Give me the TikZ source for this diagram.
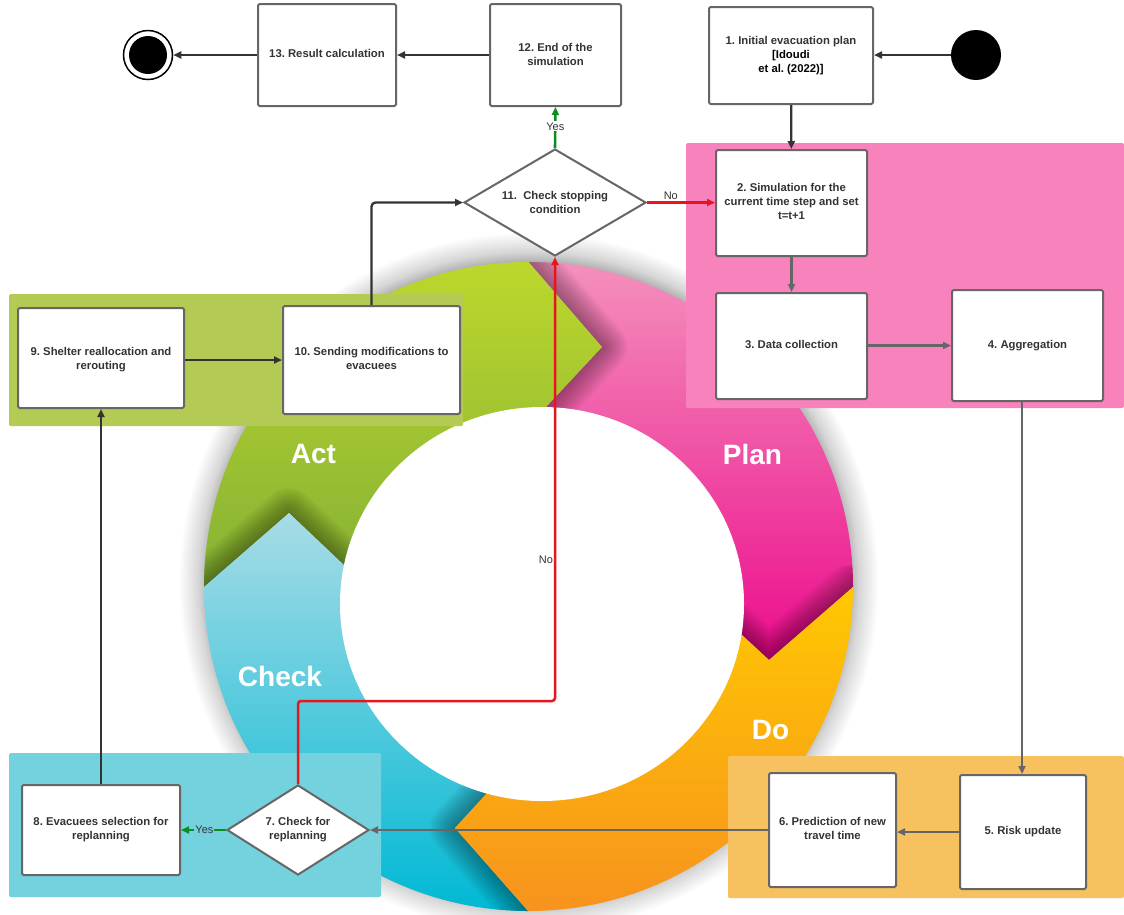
\documentclass[tikz,border=0pt]{standalone}
\usepackage{fontspec}
\setmainfont{Liberation Sans}
\frenchspacing
\usetikzlibrary{arrows.meta,shapes.geometric,calc}
\definecolor{edgegray}{HTML}{666666}
\definecolor{darkline}{HTML}{333333}
\definecolor{redline}{HTML}{E8141E}
\definecolor{greenline}{HTML}{0A8F1E}
\definecolor{txt}{HTML}{333333}
\definecolor{bandpink}{HTML}{F782BC}
\definecolor{bandgreen}{HTML}{B3CB55}
\definecolor{bandblue}{HTML}{74D1DE}
\definecolor{bandorange}{HTML}{F7C15F}
\pgfdeclareradialshading{ringglow}{\pgfpoint{0bp}{0bp}}{rgb(0bp)=(0.7,0.7,0.7); rgb(22.9bp)=(0.7,0.7,0.7); rgb(23.6bp)=(0.84,0.84,0.84); rgb(25bp)=(1,1,1); rgb(50bp)=(1,1,1)}
\newcommand\softedge[3]{\foreach \k in {1,...,14}{\pgfmathsetmacro\f{1-0.018*\k}\draw[black,opacity=.027,line width=\k*3.6pt,line join=round,line cap=round] ($#2!\f!#1$) -- #2 -- ($#2!\f!#3$);}}
\tikzset{
  box/.style={draw=edgegray,fill=white,line width=2pt,rounded corners=1.5pt,inner sep=0pt,align=center,
    font=\fontsize{11.3}{13.9}\selectfont\bfseries,text=txt,text depth=3pt},
  decision/.style={diamond,shape aspect=1.7,draw=edgegray,fill=white,line width=2pt,inner sep=0pt,align=center,
    font=\fontsize{11.3}{13.9}\selectfont\bfseries,text=txt},
  band/.style={rounded corners=1.5pt},
  phase/.style={text=white,font=\fontsize{28}{30}\selectfont\bfseries,inner sep=0pt},
  flow/.style={line width=2.3pt,-{Triangle[length=8pt,width=7pt]}},
  flowgray/.style={flow,draw=edgegray},
  flowdark/.style={flow,draw=darkline},
  flowred/.style={flow,draw=redline,line width=2.5pt},
  flowgreen/.style={flow,draw=greenline,line width=2.6pt},
  edgetext/.style={font=\fontsize{11}{13}\selectfont,text=txt,inner sep=1pt},
}
\begin{document}
\begin{tikzpicture}[x=1pt,y=-1pt]
\path[use as bounding box,fill=white] (0,0) rectangle (1124,914);
% soft shadow round the ring
\shade[shading=ringglow] (528.5,582) circle (350pt);
% ring
\begin{scope}
\clip (528.5,586.5) circle (324.5pt);
% plan
\path[top color={rgb,255:red,244;green,144;blue,188},bottom color={rgb,255:red,236;green,12;blue,140}]
  (528.5,262) -- (853,262) -- (853,587) -- (769,660) -- (742,635) -- (560,560) -- (546,407) -- (602,347) -- cycle;
\begin{scope}
\clip (528.5,262) -- (853,262) -- (853,587) -- (769,660) -- (742,635) -- (560,560) -- (546,407) -- (602,347) -- cycle;
\softedge{(511,241)}{(602,347)}{(528,427)}
\softedge{(876,567)}{(769,660)}{(720,615)}
\end{scope}
% act
\path[top color={rgb,255:red,188;green,215;blue,44},bottom color={rgb,255:red,133;green,177;blue,53}]
  (528.5,262) -- (602,347) -- (546,407) -- (345,566) -- (289,513) -- (204,587) -- (204,262) -- cycle;
\begin{scope}
\clip (528.5,262) -- (602,347) -- (546,407) -- (345,566) -- (289,513) -- (204,587) -- (204,262) -- cycle;
\softedge{(181,607)}{(289,513)}{(367,587)}
\end{scope}
% check
\path[top color={rgb,255:red,168;green,220;blue,230},bottom color={rgb,255:red,0;green,184;blue,212}]
  (204,587) -- (289,513) -- (345,566) -- (487,793) -- (455,828) -- (528,911) -- (204,911) -- cycle;
\begin{scope}
\clip (204,587) -- (289,513) -- (345,566) -- (487,793) -- (455,828) -- (528,911) -- (204,911) -- cycle;
\softedge{(507,771)}{(455,828)}{(545,930)}
\end{scope}
% do
\path[top color={rgb,255:red,255;green,200;blue,0},bottom color={rgb,255:red,247;green,147;blue,30}]
  (853,587) -- (769,660) -- (742,635) -- (487,793) -- (455,828) -- (528,911) -- (853,911) -- cycle;
\end{scope}
% hole
\fill[white] (542,604) ellipse [x radius=202pt,y radius=197pt];
% bands
\fill[band,bandpink] (686,143) rectangle (1124,408);
\fill[band,bandgreen] (9,294) rectangle (463,426);
\fill[band,bandblue] (9,753) rectangle (381,897);
\fill[band,bandorange] (728,756) rectangle (1124,898);
% phase labels
\node[phase] (act) at (313.5,454) {Act};
\node[phase] (plan) at (752.5,454) {Plan};
\node[phase] (check) at (280,676) {Check};
\node[phase] (do) at (770.5,730) {Do};
% nodes
\node[box,minimum width=164pt,minimum height=97pt] (n1) at (791,55.5)
  {1. Initial evacuation plan\\\textcolor{black}{[Idoudi}\\\textcolor{black}{et al. (2022)]}};
\node[box,minimum width=151pt,minimum height=106pt] (n2) at (791.5,203)
  {2. Simulation for the\\current time step and set\\t=t+1};
\node[box,minimum width=151pt,minimum height=106pt] (n3) at (791.5,346) {3. Data collection};
\node[box,minimum width=151pt,minimum height=111pt] (n4) at (1027.5,345.5) {4. Aggregation};
\node[box,minimum width=126pt,minimum height=114pt] (n5) at (1023,832) {5. Risk update};
\node[box,minimum width=127pt,minimum height=114pt] (n6) at (832.5,830) {6. Prediction of new\\travel time};
\node[decision,minimum width=142pt,minimum height=90pt] (n7) at (298,830) {7. Check for\\replanning};
\node[box,minimum width=158pt,minimum height=90pt] (n8) at (101,830) {8. Evacuees selection for\\replanning};
\node[box,minimum width=166pt,minimum height=100pt,text depth=0pt] (n9) at (101,358) {9. Shelter reallocation and\\rerouting};
\node[box,minimum width=177pt,minimum height=108pt] (n10) at (371.5,360) {10. Sending modifications to\\evacuees};
\node[decision,minimum width=182pt,minimum height=107pt] (n11) at (555,202.5) {11.\ \ Check stopping\\condition};
\node[box,minimum width=131pt,minimum height=102pt,text depth=2pt] (n12) at (555.5,55) {12. End of the\\simulation};
\node[box,minimum width=138pt,minimum height=102pt] (n13) at (327,55) {13. Result calculation};
\node[circle,fill=black,minimum size=50pt,inner sep=0pt] (start) at (976,55) {};
\node[circle,draw=black,fill=white,line width=1.5pt,minimum size=49pt,inner sep=0pt] (stop) at (148,55) {};
\node[circle,fill=black,minimum size=38pt,inner sep=0pt] (stopdot) at (148,55) {};
% connectors
\draw[flowdark] (start.west) -- ([yshift=.5pt]n1.east);
\draw[flowdark] (n1) -- (n2);
\draw[flowgray] (n2) -- (n3);
\draw[flowgray] ([yshift=.5pt]n3.east) -- (n4.west);
\draw[flowgray] ([xshift=-5.5pt]n4.south) -- ([xshift=-1pt]n5.north);
\draw[flowgray] (n5.west) -- ([yshift=-2pt]n6.east);
\draw[flowgray] (n6) -- (n7);
\draw[flowgreen] (n7) -- node[edgetext,fill=bandblue,pos=.48] (yes7) {Yes} (n8);
\draw[flowdark] (n8.north) -- (n9.south);
\draw[flowdark] ([yshift=-2pt]n9.east) -- (n10.west);
\draw[flowdark,rounded corners=4pt] (n10.north) |- (n11.west);
\node[edgetext] (no7) at (546,560) {No};
\coordinate (redturn) at (555,701);
\draw[flowred,rounded corners=3pt] (n7.north) |- (redturn) -- (n11.south);
\draw[flowred] (n11.east) -- node[edgetext,pos=.35,above=1pt] (no11) {No} ([yshift=.5pt]n2.west);
\draw[flowgreen] (n11.north) -- node[edgetext,fill=white,pos=.53] (yes11) {Yes} (n12.south);
\draw[flowdark] (n12) -- (n13);
\draw[flowdark] (n13) -- (stop);
\end{tikzpicture}
\end{document}
